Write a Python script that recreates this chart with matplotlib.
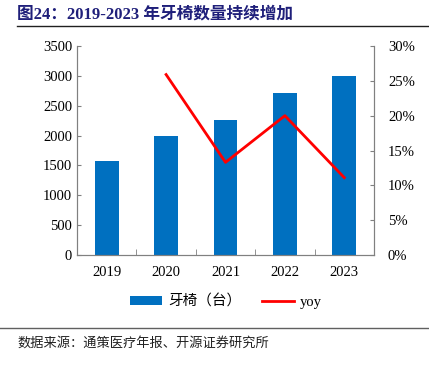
import matplotlib.pyplot as plt
import numpy as np
from matplotlib.ticker import FuncFormatter

plt.rcParams['font.family'] = ['Liberation Serif', 'Noto Sans CJK SC']

years = ['2019', '2020', '2021', '2022', '2023']
chairs = [1580, 1990, 2255, 2705, 3005]
yoy = [None, 25.9, 13.3, 20.0, 11.1]

fig = plt.figure(figsize=(4.29, 3.65), dpi=100)
ax = fig.add_axes([77/429, 1-255/365, (374-77)/429, (255-46)/365])
x = np.arange(len(years))
ax.bar(x, chairs, width=0.4, color='#0070C0', label='牙椅（台）')
ax.set_ylim(0, 3500)
ax.set_yticks(range(0, 3501, 500))
ax.set_xlim(-0.5, 4.5)
ax.set_xticks(x)
ax.set_xticklabels(years)
ax.set_xticks(np.arange(-0.5, 5, 1), minor=True)
ax.tick_params(axis='x', which='major', length=0, pad=8)
ax.tick_params(axis='x', which='minor', direction='in', length=4, color='#808080')
ax.tick_params(axis='y', direction='in', length=3, color='#808080')
ax.tick_params(labelsize=10.5)
for s in ['left', 'bottom', 'right']:
    ax.spines[s].set_color('#808080')
ax.spines['top'].set_visible(False)

ax2 = ax.twinx()
ax2.plot(x[1:], yoy[1:], color='#FF0000', lw=2, label='yoy')
ax2.set_ylim(0, 30)
ax2.set_yticks(range(0, 31, 5))
ax2.yaxis.set_major_formatter(FuncFormatter(lambda v, p: f'{int(v)}%'))
ax2.tick_params(axis='y', direction='in', length=3, color='#808080', labelsize=10.5, pad=10)
for s in ['left', 'bottom', 'right']:
    ax2.spines[s].set_color('#808080')
ax2.spines['top'].set_visible(False)

h1, l1 = ax.get_legend_handles_labels()
h2, l2 = ax2.get_legend_handles_labels()
fig.legend(h1 + h2, l1 + l2, loc='center', bbox_to_anchor=(226/429, 1-302/365),
           ncol=2, frameon=False, handlelength=2.2, handleheight=0.6, handletextpad=0.4,
           columnspacing=1.4,
           prop={'family': ['Liberation Serif', 'Noto Sans CJK SC'], 'size': 10.5})

fig.text(17/429, 1-14/365, '图24：2019-2023 年牙椅数量持续增加', fontsize=12, fontweight='bold',
         color='#1F1F7A', va='center', ha='left')
fig.add_artist(plt.Line2D([17/429, 1], [1-26/365, 1-26/365], color='#202020', lw=1))
fig.add_artist(plt.Line2D([0, 1], [1-328/365, 1-328/365], color='#606060', lw=1))
fig.text(17/429, 1-343/365, '数据来源：通策医疗年报、开源证券研究所', fontsize=9.5,
         color='#202020', va='center', ha='left')

fig.savefig('out.png', dpi=100)
